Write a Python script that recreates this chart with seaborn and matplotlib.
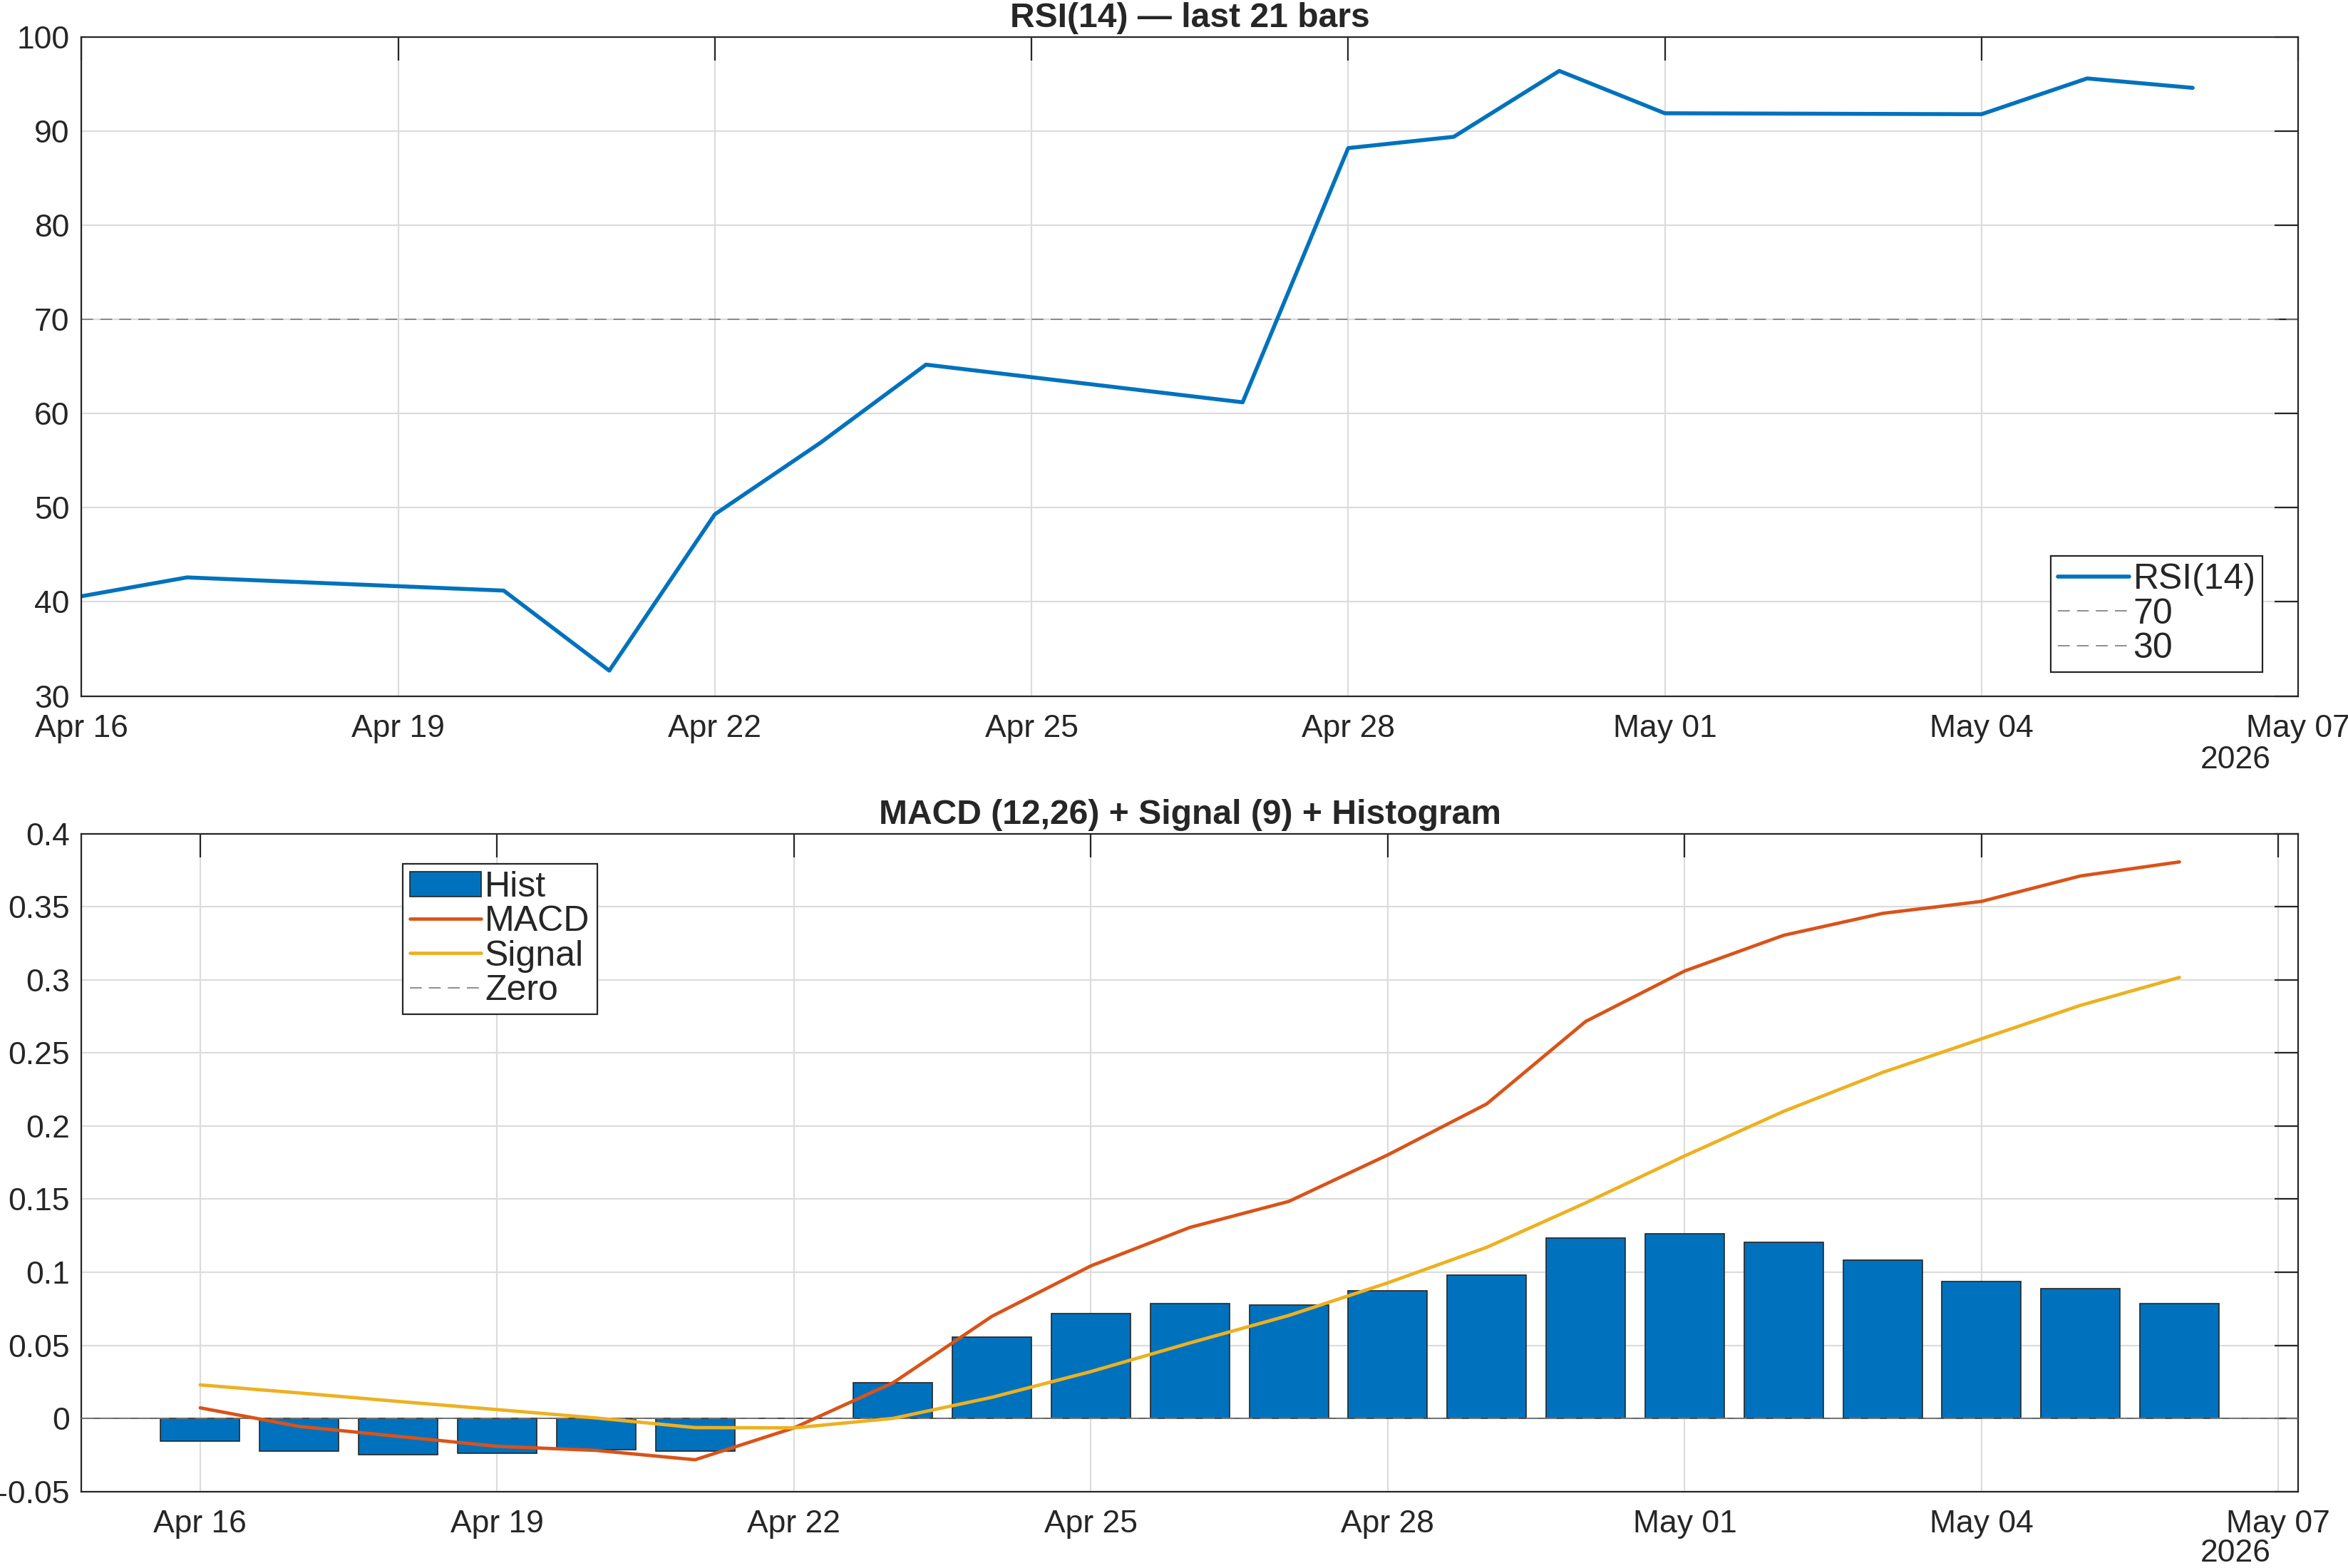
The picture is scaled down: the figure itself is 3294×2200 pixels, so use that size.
import matplotlib
matplotlib.use("Agg")
import numpy as np
import pandas as pd
import matplotlib.pyplot as plt
import matplotlib.dates as mdates
from matplotlib.patches import Patch
from matplotlib.lines import Line2D
import seaborn as sns

# RSI(14) values on trading days
rsi_dates = ["2026-04-16", "2026-04-17", "2026-04-20", "2026-04-21", "2026-04-22",
             "2026-04-23", "2026-04-24", "2026-04-27", "2026-04-28", "2026-04-29",
             "2026-04-30", "2026-05-01", "2026-05-04", "2026-05-05", "2026-05-06"]
rsi = [40.6, 42.6, 41.2, 32.7, 49.3, 56.9, 65.2, 61.2, 88.2, 89.4,
       96.4, 91.9, 91.8, 95.6, 94.6]

# MACD panel, 21 bars
macd_dates = pd.date_range("2026-04-16", periods=21, freq="D")
hist = [-0.0157, -0.0226, -0.025, -0.024, -0.0215, -0.0222, 0.0, 0.0243, 0.0554, 0.0718,
        0.0783, 0.0776, 0.0872, 0.0978, 0.1235, 0.1265, 0.1204, 0.1084, 0.0934, 0.0886, 0.0783]
macd = [0.0072, -0.0055, -0.0123, -0.0191, -0.0219, -0.0283, -0.0065, 0.0243, 0.0698, 0.1043,
        0.1306, 0.1484, 0.1802, 0.2151, 0.2715, 0.306, 0.3304, 0.3454, 0.3536, 0.371, 0.3806]
signal = [0.0229, 0.0174, 0.0116, 0.006, 0.0003, -0.0063, -0.0065, 0.0, 0.0144, 0.032,
          0.0516, 0.0704, 0.0927, 0.117, 0.1474, 0.1795, 0.21, 0.2366, 0.2596, 0.2825, 0.3016]

BLUE = "#0072BD"
ORANGE = "#D95319"
YELLOW = "#EDB120"
DARK = "#262626"
DASH = "#7a7a7a"

sns.set_style("white")
plt.rcParams["font.family"] = ["Liberation Sans", "DejaVu Sans"]
plt.rcParams["text.color"] = DARK
plt.rcParams["axes.labelcolor"] = DARK
plt.rcParams["xtick.color"] = DARK
plt.rcParams["ytick.color"] = DARK

fig = plt.figure(figsize=(16.47, 11), dpi=200)
ax1 = fig.add_axes([0.0347, 0.5561, 0.9441, 0.4203])
ax2 = fig.add_axes([0.0347, 0.0488, 0.9441, 0.4196])


def style_axes(ax):
    for s in ax.spines.values():
        s.set_color(DARK)
        s.set_linewidth(0.8)
    ax.grid(True, color="#dcdcdc", linewidth=0.8)
    ax.set_axisbelow(True)
    ax.tick_params(which="both", direction="in", top=True, right=True,
                   length=12, width=0.8, labelsize=16, pad=6)
    ax.tick_params(axis="x", pad=9)
    ax.xaxis.set_major_formatter(mdates.DateFormatter("%b %d"))
    ax.set_xlabel("")
    ax.set_ylabel("")


# ---- RSI panel
x_rsi = mdates.date2num(pd.to_datetime(rsi_dates))
sns.lineplot(x=x_rsi, y=rsi, ax=ax1, color=BLUE, linewidth=2.0)
ax1.axhline(70, color=DASH, linewidth=0.6, dashes=(10, 6))
ax1.axhline(30, color=DASH, linewidth=0.6, dashes=(10, 6))
ax1.set_xlim(mdates.date2num(pd.Timestamp("2026-04-16")), mdates.date2num(pd.Timestamp("2026-05-07")))
ax1.set_ylim(30, 100)
ax1.set_xticks(mdates.date2num(pd.date_range("2026-04-16", "2026-05-07", freq="3D")))
ax1.set_yticks(np.arange(30, 101, 10))
style_axes(ax1)
ax1.set_title("RSI(14) \u2014 last 21 bars", fontsize=17.3, fontweight="bold", pad=5)
h1 = [Line2D([], [], color=BLUE, lw=2.0),
      Line2D([], [], color=DASH, lw=0.6, dashes=(10, 6)),
      Line2D([], [], color=DASH, lw=0.6, dashes=(10, 6))]
leg1 = ax1.legend(h1, ["RSI(14)", "70", "30"], loc="lower right", bbox_to_anchor=(0.984, 0.036),
                  fontsize=18, frameon=True, fancybox=False, edgecolor=DARK, framealpha=1,
                  handlelength=2.0, handletextpad=0.1, labelspacing=0.05, borderpad=0.2,
                  borderaxespad=0)
leg1.get_frame().set_linewidth(0.8)

# ---- MACD panel
x_m = mdates.date2num(macd_dates)
sns.barplot(x=x_m, y=hist, ax=ax2, native_scale=True, color=BLUE, saturation=1,
            edgecolor=DARK, linewidth=0.6, errorbar=None, width=0.8, zorder=2)
ax2.axhline(0, color="#505050", linewidth=0.6, zorder=2.5)
ax2.axhline(0, color=DASH, linewidth=0.6, dashes=(10, 6), zorder=2.6)
sns.lineplot(x=x_m, y=macd, ax=ax2, color=ORANGE, linewidth=1.7, zorder=3)
sns.lineplot(x=x_m, y=signal, ax=ax2, color=YELLOW, linewidth=1.7, zorder=3)
d0 = mdates.date2num(pd.Timestamp("2026-04-16"))
d1 = mdates.date2num(pd.Timestamp("2026-05-07"))
ax2.set_xlim(d0 - 1.2, d1 + 0.2)
ax2.set_ylim(-0.05, 0.4)
ax2.set_xticks(mdates.date2num(pd.date_range("2026-04-16", "2026-05-07", freq="3D")))
ax2.set_yticks([-0.05, 0, 0.05, 0.1, 0.15, 0.2, 0.25, 0.3, 0.35, 0.4])
ax2.set_yticklabels(["-0.05", "0", "0.05", "0.1", "0.15", "0.2", "0.25", "0.3", "0.35", "0.4"])
style_axes(ax2)
ax2.set_title("MACD (12,26) + Signal (9) + Histogram", fontsize=17.3, fontweight="bold", pad=5)
h2 = [Patch(facecolor=BLUE, edgecolor=DARK, linewidth=0.6),
      Line2D([], [], color=ORANGE, lw=1.7),
      Line2D([], [], color=YELLOW, lw=1.7),
      Line2D([], [], color=DASH, lw=0.6, dashes=(10, 6))]
leg2 = ax2.legend(h2, ["Hist", "MACD", "Signal", "Zero"], loc="upper left",
                  bbox_to_anchor=(0.145, 0.954), fontsize=18, frameon=True, fancybox=False,
                  edgecolor=DARK, framealpha=1, handlelength=2.0, handletextpad=0.1,
                  labelspacing=0.05, borderpad=0.2, borderaxespad=0)
leg2.get_frame().set_linewidth(0.8)

# year labels under the last tick
fig.text(0.967, 0.515, "2026", ha="right", va="center", fontsize=16)
fig.text(0.967, 0.0095, "2026", ha="right", va="center", fontsize=16)

fig.savefig("out.png", dpi=200)
